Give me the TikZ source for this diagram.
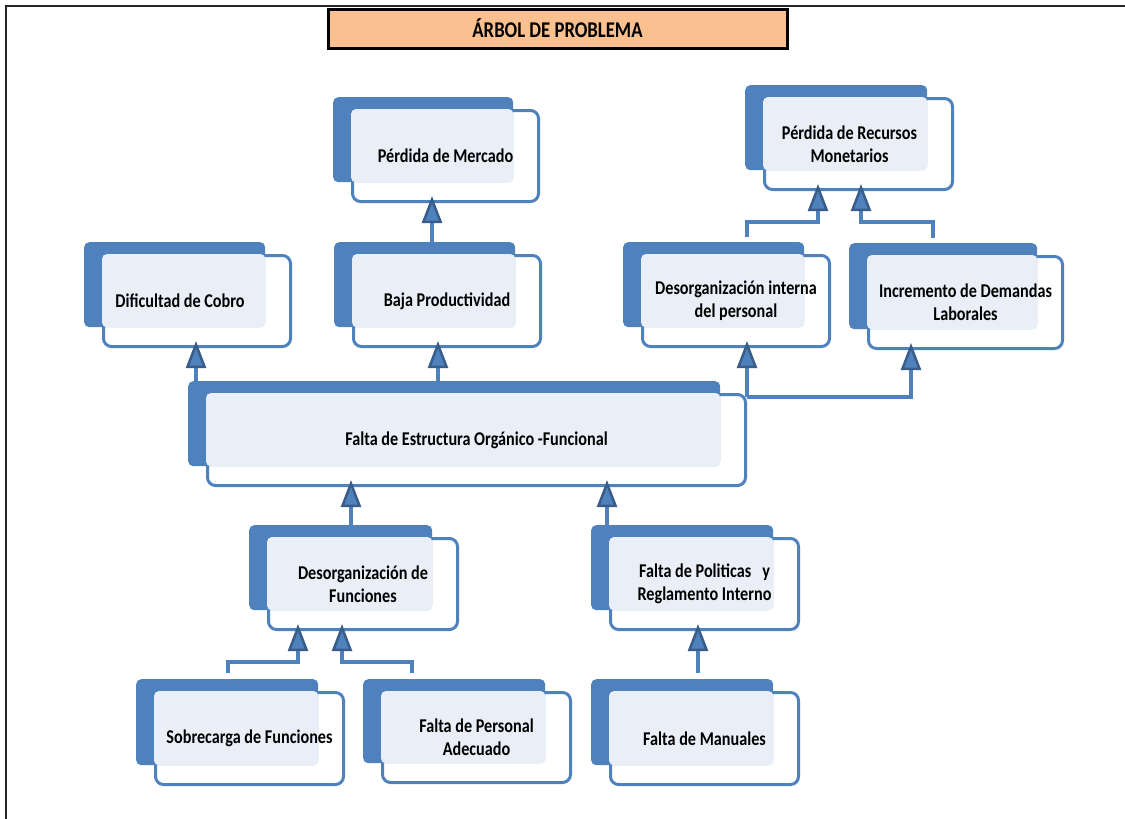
\documentclass[tikz,border=0pt]{standalone}
\usepackage{fontspec}
\setmainfont{Carlito}[FakeStretch=0.83]
\usetikzlibrary{arrows.meta}

\definecolor{azul}{HTML}{4F81BD}
\definecolor{azuloscuro}{HTML}{385D8A}
\definecolor{claro}{HTML}{EAEFF7}
\definecolor{durazno}{HTML}{FAC090}

\tikzset{
  fondo/.style={fill=azul, rounded corners=5pt, anchor=north west, inner sep=0pt},
  marco/.style={draw=azul, fill=white, line width=3pt, rounded corners=8pt, anchor=north west, inner sep=0pt},
  texto/.style={font=\bfseries\fontsize{19.5}{23}\selectfont, align=center, inner sep=0pt},
  titulo/.style={draw=black, fill=durazno, line width=3pt, inner sep=0pt,
    font=\bfseries\fontsize{22.5}{26}\selectfont},
  linea/.style={draw=azul, line width=3.5pt},
  flecha/.style={linea, shorten >=-7pt,
    -{Triangle[length=27pt, width=20pt, color=azuloscuro, fill=azul, line width=2.5pt]}},
}

% caja: [desplazamiento del texto] nombre, izquierda, arriba, ancho, alto, texto
\newcommand{\caja}[7][0]{%
  \node[marco, minimum width={#5+6}, minimum height={#6+6}] (#2) at ({#3+18},{#4+12}) {};
  \node[fondo, minimum width=#5, minimum height=#6] (#2-f) at (#3,#4) {};
  \fill[claro, rounded corners=5pt] (#2.north west) rectangle (#2-f.south east);
  \node[texto] (#2-t) at ([xshift=#1]#2.center) {#7};
}

\begin{document}
\begin{tikzpicture}[x=1pt,y=-1pt]
  \path[use as bounding box, fill=white] (0,0) rectangle (1125,819);
  \draw[line width=2pt, black!85] (6,819) -- (6,6) -- (1125,6);
  \node[titulo, minimum width=459, minimum height=39] (titulo) at (557.5,28.5) {ÁRBOL DE PROBLEMA};

  % efectos
  \caja{mercado}{333}{97}{180}{85}{Pérdida de Mercado}
  \caja[-9]{recursos}{745}{85}{182}{85}{Pérdida de Recursos\\Monetarios}
  \caja[-17]{cobro}{84}{242}{181}{85}{Dificultad de Cobro}
  \caja{baja}{334}{242}{181}{85}{Baja Productividad}
  \caja{interna}{623}{242}{181}{85}{Desorganización interna\\del personal}
  \caja{demandas}{849}{243}{188}{86}{Incremento de Demandas\\Laborales}
  % problema central
  \caja{estructura}{188}{381}{532}{85}{Falta de Estructura Orgánico -Funcional}
  % causas
  \caja{funciones}{249}{525}{183}{85}{Desorganización de\\Funciones}
  \caja{politicas}{591}{525}{182}{85}{Falta de Politicas~~~y\\Reglamento Interno}
  \caja{sobrecarga}{136}{679}{182}{86}{Sobrecarga de Funciones}
  \caja{personal}{363}{679}{182}{84}{Falta de Personal\\Adecuado}
  \caja{manuales}{591}{679}{182}{86}{Falta de Manuales}

  % conectores
  \draw[flecha] (432,0 |- baja-f.north) -- (432,0 |- mercado.south);
  \draw[flecha] (196,0 |- estructura-f.north) -- (196,0 |- cobro.south);
  \draw[flecha] (438,0 |- estructura-f.north) -- (438,0 |- baja.south);
  \coordinate (bif) at ([yshift=-4]estructura.north east);
  \draw[flecha] (bif) -- (bif |- interna.south);
  \draw[flecha] (bif) -- (911,0 |- bif) -- (911,0 |- demandas.south);
  \draw[flecha, shorten <=5pt] (747,0 |- interna-f.north) |- (818,222) -- (818,0 |- recursos.south);
  \draw[flecha, shorten <=5pt] (933,0 |- demandas-f.north) |- (861,222) -- (861,0 |- recursos.south);
  \draw[flecha] (351,0 |- funciones-f.north) -- (351,0 |- estructura.south);
  \draw[flecha, shorten <=-12pt] (607,0 |- politicas-f.north) -- (607,0 |- estructura.south);
  \draw[flecha, shorten <=6pt] (698,0 |- manuales-f.north) -- (698,0 |- politicas.south);
  \draw[flecha, shorten <=6pt] (228,0 |- sobrecarga-f.north) |- (298,662) -- (298,0 |- funciones.south);
  \draw[flecha, shorten <=6pt] (412,0 |- personal-f.north) |- (342,662) -- (342,0 |- funciones.south);
\end{tikzpicture}
\end{document}
